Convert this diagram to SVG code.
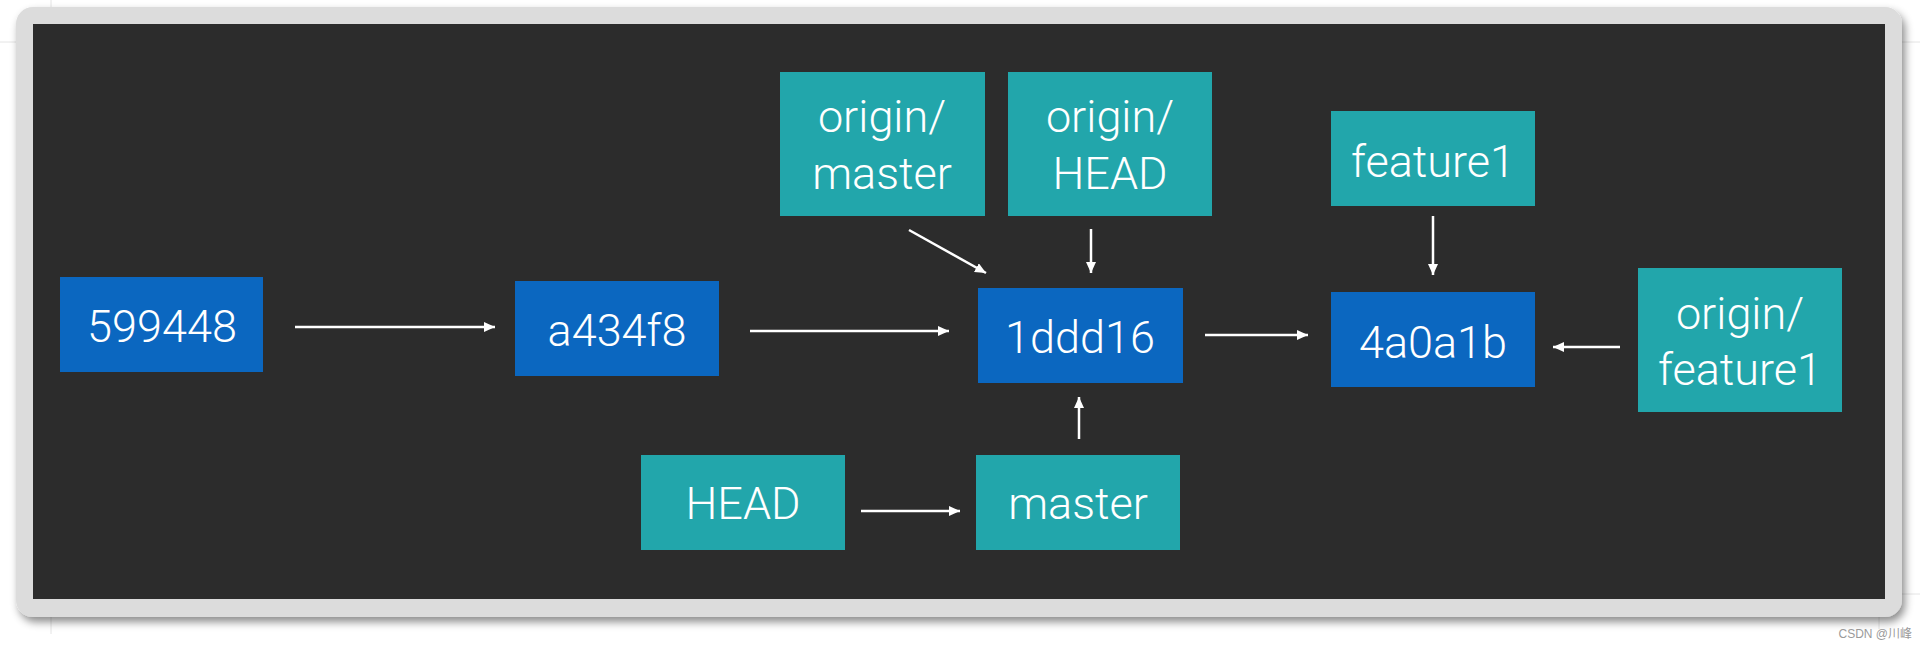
<svg xmlns="http://www.w3.org/2000/svg" width="1927" height="649" viewBox="0 0 1927 649">
<style>
.commit{fill:#0b67c0}
.ref{fill:#22a6ab}
.lbl{fill:#ffffff;font-family:Roboto,"Liberation Sans",sans-serif;font-weight:300;font-size:45px;text-anchor:middle}
.conn{stroke:#ffffff;stroke-width:2.5;fill:none;marker-end:url(#ah)}
.crop{stroke:#e4e4e4;stroke-width:1}
</style>
<defs>
<marker id="ah" markerUnits="userSpaceOnUse" markerWidth="12" markerHeight="11" refX="11" refY="5" orient="auto">
<path d="M0,0 L11,5 L0,10 z" fill="#ffffff"/>
</marker>
<filter id="sh" x="-5%" y="-5%" width="110%" height="115%">
<feDropShadow dx="3" dy="5" stdDeviation="4" flood-color="#000" flood-opacity="0.45"/>
</filter>
</defs>
<rect width="1927" height="649" fill="#ffffff"/>
<g id="cropmarks">
<line class="crop" x1="51" y1="0" x2="51" y2="7"/>
<line class="crop" x1="0" y1="42" x2="16" y2="42"/>
<line class="crop" x1="1902" y1="42" x2="1920" y2="42"/>
<line class="crop" x1="51" y1="617" x2="51" y2="634"/>
<line class="crop" x1="1902" y1="594" x2="1920" y2="594"/>
<line class="crop" x1="1879" y1="617" x2="1879" y2="629"/>
</g>
<g id="frame">
<rect x="16" y="7" width="1886" height="610" rx="17" fill="#dcdcdc" filter="url(#sh)"/>
<rect x="33" y="24" width="1852" height="575" fill="#2c2c2c"/>
</g>
<g id="connectors">
<line class="conn" x1="295" y1="327" x2="495" y2="327"/>
<line class="conn" x1="750" y1="331" x2="949" y2="331"/>
<line class="conn" x1="909" y1="230" x2="986" y2="273"/>
<line class="conn" x1="1091" y1="229" x2="1091" y2="273"/>
<line class="conn" x1="1205" y1="335" x2="1308" y2="335"/>
<line class="conn" x1="1433" y1="216" x2="1433" y2="275"/>
<line class="conn" x1="1620" y1="347" x2="1553" y2="347"/>
<line class="conn" x1="861" y1="511" x2="960" y2="511"/>
<line class="conn" x1="1079" y1="439" x2="1079" y2="397"/>
</g>
<g id="n599448"><rect class="commit" x="60" y="277" width="203" height="95"/><text class="lbl" x="162" y="342">599448</text></g>
<g id="na434f8"><rect class="commit" x="515" y="281" width="204" height="95"/><text class="lbl" x="617" y="346">a434f8</text></g>
<g id="n1ddd16"><rect class="commit" x="978" y="288" width="205" height="95"/><text class="lbl" x="1080" y="353">1ddd16</text></g>
<g id="n4a0a1b"><rect class="commit" x="1331" y="292" width="204" height="95"/><text class="lbl" x="1433" y="358">4a0a1b</text></g>
<g id="originmaster"><rect class="ref" x="780" y="72" width="205" height="144"/><text class="lbl" x="882" y="132">origin/</text><text class="lbl" x="882" y="189">master</text></g>
<g id="originhead"><rect class="ref" x="1008" y="72" width="204" height="144"/><text class="lbl" x="1110" y="132">origin/</text><text class="lbl" x="1110" y="189">HEAD</text></g>
<g id="feature1"><rect class="ref" x="1331" y="111" width="204" height="95"/><text class="lbl" x="1433" y="177">feature1</text></g>
<g id="originfeature1"><rect class="ref" x="1638" y="268" width="204" height="144"/><text class="lbl" x="1740" y="329">origin/</text><text class="lbl" x="1740" y="385">feature1</text></g>
<g id="head"><rect class="ref" x="641" y="455" width="204" height="95"/><text class="lbl" x="743" y="519">HEAD</text></g>
<g id="master"><rect class="ref" x="976" y="455" width="204" height="95"/><text class="lbl" x="1078" y="519">master</text></g>
<text x="1912" y="638" font-family="'Liberation Sans','Noto Sans CJK SC',sans-serif" font-size="12" fill="#9a9a9a" text-anchor="end">CSDN @川峰</text>
</svg>
